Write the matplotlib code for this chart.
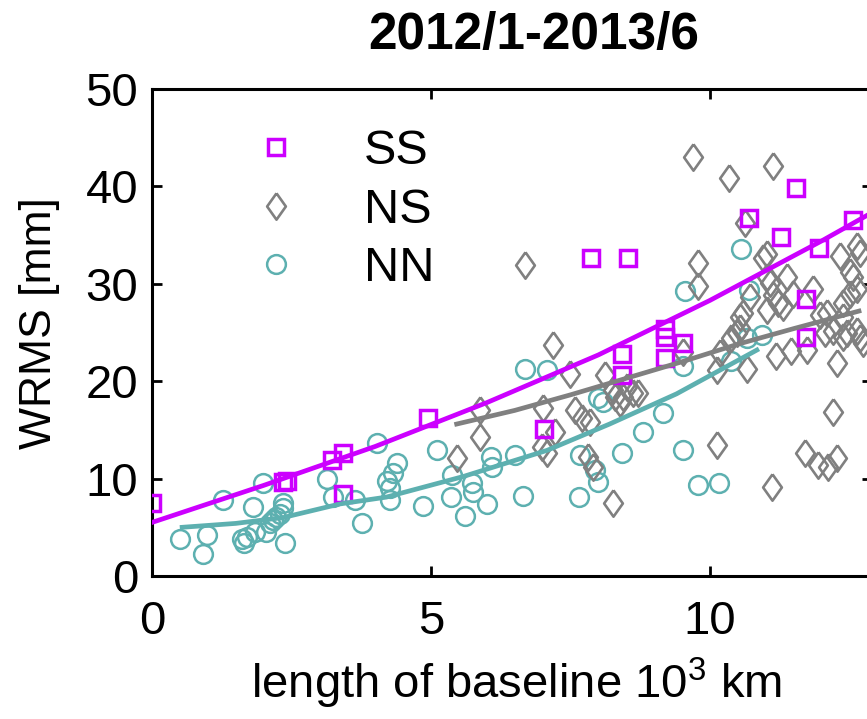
import matplotlib
matplotlib.use("Agg")
import matplotlib.pyplot as plt

# WRMS against baseline length
ss_x = [0.0, 2.35, 2.42, 3.23, 3.42, 3.42, 4.95, 7.03, 7.87, 8.53, 8.42, 8.42,
        9.19, 9.19, 9.52, 9.19, 10.70, 11.27, 11.54, 11.72, 11.72, 11.95, 12.56]
ss_y = [7.5, 9.6, 9.8, 11.9, 12.6, 8.4, 16.2, 15.1, 32.7, 32.7, 22.8, 20.6,
        25.4, 24.5, 23.9, 22.4, 36.8, 34.8, 39.8, 28.4, 24.5, 33.7, 36.5]

ns_x = [5.47, 5.88, 5.88, 6.68, 6.99, 7.08, 7.01, 7.19, 7.22, 7.49, 7.58, 7.71,
        7.85, 7.81, 7.90, 8.12, 8.26, 8.39, 8.51, 8.26, 8.30, 8.44, 8.62, 8.71,
        9.52, 9.70, 9.79, 9.79, 10.12, 10.12, 10.18, 10.34, 10.37, 10.48, 10.54,
        10.54, 10.59, 10.63, 10.66, 10.72, 10.95, 11.02, 11.02, 11.02, 11.08,
        11.11, 11.13, 11.13, 11.18, 11.22, 11.31, 11.38, 11.45, 11.49, 11.70,
        11.74, 11.85, 11.94, 11.97, 12.06, 12.10, 12.11, 12.20, 12.20, 12.28,
        12.28, 12.33, 12.38, 12.38, 12.38, 12.45, 12.51, 12.50, 12.56, 12.63,
        12.69, 12.63, 12.63, 12.69, 12.75]
ns_y = [12.1, 17.0, 14.3, 31.9, 13.2, 12.6, 17.2, 23.7, 14.8, 20.7, 17.0, 16.2,
        15.8, 12.2, 11.2, 20.6, 19.1, 17.8, 19.4, 7.5, 18.4, 18.4, 18.8, 18.8,
        23.0, 43.0, 32.1, 29.8, 13.4, 21.1, 22.9, 40.9, 24.4, 24.9, 25.5,
        26.6, 27.0, 36.2, 21.3, 28.6, 32.7, 33.1, 30.7, 27.3, 30.1,
        9.1, 42.1, 28.8, 22.6, 28.0, 27.6, 30.7, 23.1, 29.0, 12.6,
        23.2, 29.5, 11.4, 26.8, 24.9, 27.0, 11.2, 16.8, 25.2, 21.9,
        12.1, 32.9, 24.5, 28.0, 26.6, 24.9, 31.2, 29.0, 30.7, 33.9,
        33.2, 29.5, 25.2, 24.4, 23.9]

nn_x = [0.50, 0.91, 0.98, 1.27, 1.61, 1.65, 1.70, 1.85, 1.81, 1.99, 2.04, 2.11,
        2.17, 2.23, 2.29, 2.35, 2.35, 2.38, 3.13, 3.24, 3.64, 3.76, 4.04, 4.39,
        4.32, 4.21, 4.27, 4.27, 4.86, 5.11, 5.38, 5.36, 5.61, 5.73, 5.75, 6.00,
        6.08, 6.09, 6.51, 6.65, 6.68, 7.08, 7.67, 7.65, 7.94, 7.99, 7.99, 8.08,
        8.42, 8.80, 9.16, 9.52, 9.52, 9.55, 9.79, 10.16, 10.38, 10.56, 10.66,
        10.70, 10.93]
nn_y = [3.8, 2.3, 4.2, 7.8, 3.8, 3.4, 4.0, 4.5, 7.1, 9.5, 4.5, 5.4,
        5.7, 6.1, 6.4, 7.5, 7.0, 3.4, 10.0, 8.1, 7.8, 5.4, 13.7, 11.6,
        10.6, 9.8, 9.0, 7.8, 7.2, 12.9, 10.4, 8.1, 6.2, 9.5, 8.6, 7.4,
        12.2, 11.2, 12.4, 8.2, 21.3, 21.2, 12.4, 8.1, 10.9, 9.6, 18.3, 17.9,
        12.6, 14.8, 16.7, 12.9, 21.6, 29.3, 9.3, 9.5, 22.1, 33.6, 24.4,
        29.4, 24.7]

# trend curves, read at a few points along each line
ss_fit_x = [0.0, 2.0, 4.0, 6.0, 8.0, 10.0, 12.0, 12.9]
ss_fit_y = [5.5, 9.3, 13.3, 17.8, 22.7, 28.3, 34.4, 37.3]
ns_fit_x = [5.46, 6.5, 7.5, 8.5, 9.5, 10.5, 11.5, 12.67]
ns_fit_y = [15.6, 17.0, 18.6, 20.3, 22.0, 23.8, 25.4, 27.2]
nn_fit_x = [0.54, 1.5, 2.35, 3.37, 4.2, 5.57, 7.08, 8.2, 9.4, 10.84]
nn_fit_y = [5.0, 5.4, 6.0, 7.4, 8.1, 10.2, 12.9, 15.6, 18.7, 23.2]

magenta = "#CC00FF"
gray = "#808080"
teal = "#5DB0B0"

plt.rcParams["font.family"] = ["Liberation Sans", "DejaVu Sans"]
plt.rcParams["mathtext.fontset"] = "custom"
plt.rcParams["mathtext.rm"] = "Liberation Sans"
plt.rcParams["mathtext.it"] = "Liberation Sans"

fig = plt.figure(figsize=(8.67, 7.19), dpi=100)
# the right side of the axes runs just past the edge of the picture
ax = fig.add_axes([152 / 867, 143 / 719, 720 / 867, 487 / 719])

diamond = [(0, 1), (0.71, 0), (0, -1), (-0.71, 0), (0, 1)]

ax.plot(nn_x, nn_y, linestyle="none", marker="o", ms=13.5, mfc="none",
        mec=teal, mew=1.8, label="NN", zorder=2)
ax.plot(ns_x, ns_y, linestyle="none", marker=diamond, ms=19, mfc="none",
        mec=gray, mew=1.9, label="NS", zorder=3)
ax.plot(ss_x, ss_y, linestyle="none", marker="s", ms=11.5, mfc="none",
        mec=magenta, mew=2.5, label="SS", zorder=4)

ax.plot(nn_fit_x, nn_fit_y, color=teal, lw=3.4, zorder=5)
ax.plot(ns_fit_x, ns_fit_y, color=gray, lw=3.4, zorder=5)
ax.plot(ss_fit_x, ss_fit_y, color=magenta, lw=3.4, zorder=6)

ax.set_xlim(0, 720 / 55.8)
ax.set_ylim(0, 50)
ax.set_xticks([0, 5, 10])
ax.set_yticks([0, 10, 20, 30, 40, 50])
ax.tick_params(direction="in", length=7, width=2.0, top=True, right=True,
               labelsize=34)
ax.tick_params(axis="x", pad=17)
ax.tick_params(axis="y", pad=10)
for sp in ax.spines.values():
    sp.set_linewidth(2.2)

ax.set_title("2012/1-2013/6", fontsize=37, fontweight="bold", pad=29, x=0.53)
ax.set_xlabel("length of baseline 10$^{3}$ km", fontsize=34)
ax.xaxis.set_label_coords(0.507, -0.165)
ax.set_ylabel("WRMS [mm]", fontsize=32)
ax.yaxis.set_label_coords(-0.128, 0.52)

handles, labels = ax.get_legend_handles_labels()
order = [2, 1, 0]
ax.legend([handles[i] for i in order], [labels[i] for i in order],
          loc="upper left", bbox_to_anchor=(0.1385, 0.918), frameon=False,
          fontsize=35, handlelength=1.0, handletextpad=1.3, labelspacing=0.28,
          borderpad=0, borderaxespad=0, numpoints=1)

fig.savefig("out.png", dpi=100)
plt.close(fig)
